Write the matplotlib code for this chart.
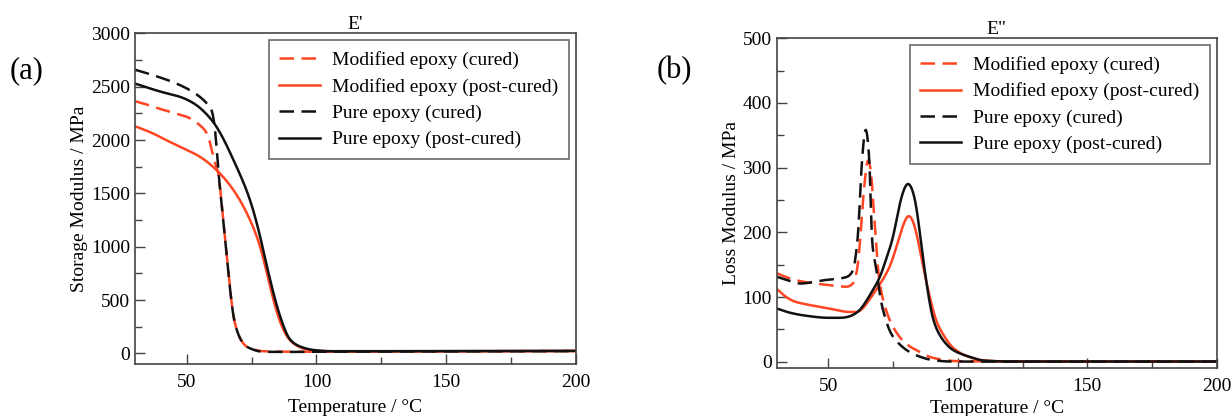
import matplotlib
matplotlib.use("Agg")
import matplotlib.pyplot as plt
from matplotlib.ticker import MultipleLocator
import numpy as np

plt.rcParams["font.family"] = ["Liberation Serif", "DejaVu Serif"]

RED = "#ff4521"
BLACK = "#111111"
SPINE = "#444444"

labels = ["Modified epoxy (cured)", "Modified epoxy (post-cured)",
          "Pure epoxy (cured)", "Pure epoxy (post-cured)"]

# ---- Storage modulus E' (MPa) vs temperature (°C) ----
sm_mod_cured_T = [30, 35, 40, 45, 50, 55, 57.7, 59, 60.2, 61.2, 62.2, 63.5, 64.8, 66.7, 68, 69.5, 71, 73.1, 79.5, 85, 90, 100, 120, 150, 180, 200]
sm_mod_cured_E = [2365, 2330, 2290, 2255, 2218, 2140, 2064, 1969, 1843, 1760, 1687, 1375, 1062, 593, 343, 200, 120, 62, 20, 16, 15, 15, 17, 19, 21, 22]

sm_mod_post_T = [30, 37, 42, 47.4, 55.1, 61.5, 68, 74.4, 78.3, 80.9, 83.4, 86, 89.8, 95, 100, 110, 150, 200]
sm_mod_post_E = [2131, 2062, 2000, 1937, 1843, 1718, 1531, 1250, 1000, 750, 500, 290, 120, 45, 25, 18, 20, 22]

sm_pure_cured_T = [30, 37, 45, 50, 55, 57.7, 59.6, 60.9, 62.2, 63.5, 64.8, 66.7, 68, 69.5, 71, 73.1, 79.5, 90, 100, 150, 200]
sm_pure_cured_E = [2660, 2609, 2540, 2484, 2406, 2344, 2281, 2094, 1687, 1375, 1062, 593, 343, 200, 120, 62, 15, 13, 15, 18, 21]

sm_pure_post_T = [30, 37, 42, 47.4, 53, 60.2, 62.8, 68, 74.4, 78.3, 80.9, 86, 89.8, 94, 98.8, 105, 150, 200]
sm_pure_post_E = [2531, 2475, 2440, 2406, 2340, 2170, 2070, 1812, 1437, 1094, 812, 343, 125, 60, 31, 20, 21, 23]

# ---- Loss modulus E'' (MPa) vs temperature (°C) ----
lm_mod_cured_T = [30, 35, 40, 50, 57, 59.5, 61, 62.3, 63.7, 65.3, 66.7, 67.3, 68.3, 69.2, 71.5, 75.7, 80, 84, 90.5, 100, 120, 200]
lm_mod_cured_E = [137, 129, 124, 118.6, 116, 121, 140, 190, 265, 313, 285, 245, 193, 141, 90, 49, 28, 18, 6, 1, 0.5, 0.5]

lm_mod_post_T = [30, 33, 37, 40, 50, 58.3, 61.3, 63.4, 66, 69.9, 73.7, 77.6, 79.5, 81, 82.5, 84, 86.6, 89, 91.8, 95, 98, 104.6, 110, 120, 200]
lm_mod_post_E = [113.5, 102, 93, 90, 82.6, 77, 77, 83, 97, 120, 147, 195, 218, 227, 220, 199, 147, 103, 62, 38, 22, 7, 2, 0.5, 0.5]

lm_pure_cured_T = [30, 35, 39, 48, 57, 59.6, 60.6, 61.5, 62.8, 64.4, 66, 66.7, 68.6, 70.5, 75, 84, 90.5, 96.9, 110, 200]
lm_pure_cured_E = [131.5, 125, 121, 126, 131, 142, 165, 199, 301, 361, 301, 193, 141, 90, 38.6, 10, 2.6, 0.5, 0.3, 0.3]

lm_pure_post_T = [30, 35, 40, 50, 55, 58, 61.3, 63.5, 66, 69.9, 72, 75, 77.6, 79.5, 80.8, 82.3, 84, 85.3, 87.6, 90.5, 94, 98.2, 104.6, 110, 120, 200]
lm_pure_post_E = [82.6, 76, 72, 68, 68, 70, 77, 87, 103, 131, 155, 193, 245, 270, 277, 268, 240, 200, 130, 64.5, 35, 18, 7.7, 2, 0.5, 0.5]


def smooth(T, E, n=1700, width=0.7):
    """Monotone cubic (PCHIP) curve through the points, lightly eased to hide kinks."""
    T = np.asarray(T, float)
    E = np.asarray(E, float)
    h = np.diff(T)
    d = np.diff(E) / h
    m = np.zeros_like(E)
    for k in range(1, len(E) - 1):
        if d[k - 1] * d[k] > 0:
            w1 = 2 * h[k] + h[k - 1]
            w2 = h[k] + 2 * h[k - 1]
            m[k] = (w1 + w2) / (w1 / d[k - 1] + w2 / d[k])
    m[0] = d[0]
    m[-1] = d[-1]
    x = np.linspace(T[0], T[-1], n)
    idx = np.clip(np.searchsorted(T, x) - 1, 0, len(T) - 2)
    t = (x - T[idx]) / h[idx]
    h00 = 2 * t**3 - 3 * t**2 + 1
    h10 = t**3 - 2 * t**2 + t
    h01 = -2 * t**3 + 3 * t**2
    h11 = t**3 - t**2
    y = h00 * E[idx] + h10 * h[idx] * m[idx] + h01 * E[idx + 1] + h11 * h[idx] * m[idx + 1]
    # short Gaussian easing along T
    step = x[1] - x[0]
    half = int(3 * width / step)
    kx = np.arange(-half, half + 1) * step
    ker = np.exp(-0.5 * (kx / width) ** 2)
    ker /= ker.sum()
    ypad = np.concatenate([np.full(half, y[0]), y, np.full(half, y[-1])])
    y = np.convolve(ypad, ker, mode="valid")
    return x, y


fig = plt.figure(figsize=(12.32, 4.16), dpi=100)
ax1 = fig.add_axes([0.1096, 0.125, 0.3577, 0.7945])
ax2 = fig.add_axes([0.6304, 0.1147, 0.3571, 0.7933])

LW = 1.8
DASH = (0, (5.8, 3.0))


def draw(ax, series, widths):
    styles = [(RED, DASH), (RED, "-"), (BLACK, DASH), (BLACK, "-")]
    for (T, E), (c, ls), lab, w in zip(series, styles, labels, widths):
        x, y = smooth(T, E, width=w)
        ax.plot(x, y, color=c, linestyle=ls, linewidth=LW, label=lab)


draw(ax1, [(sm_mod_cured_T, sm_mod_cured_E), (sm_mod_post_T, sm_mod_post_E),
           (sm_pure_cured_T, sm_pure_cured_E), (sm_pure_post_T, sm_pure_post_E)],
     [0.35, 0.8, 0.35, 0.9])
draw(ax2, [(lm_mod_cured_T, lm_mod_cured_E), (lm_mod_post_T, lm_mod_post_E),
           (lm_pure_cured_T, lm_pure_cured_E), (lm_pure_post_T, lm_pure_post_E)],
     [0.3, 0.7, 0.3, 0.7])

ax1.set_xlim(30, 200)
ax1.set_ylim(-100, 3000)
ax1.yaxis.set_major_locator(MultipleLocator(500))
ax1.yaxis.set_minor_locator(MultipleLocator(250))
ax1.set_ylabel("Storage Modulus / MPa", fontsize=14, labelpad=2)
ax1.set_title("E'", fontsize=14, pad=3)

ax2.set_xlim(30, 200)
ax2.set_ylim(-10, 500)
ax2.yaxis.set_major_locator(MultipleLocator(100))
ax2.yaxis.set_minor_locator(MultipleLocator(50))
ax2.set_ylabel("Loss Modulus / MPa", fontsize=14, labelpad=2)
ax2.set_title('E"', fontsize=14, pad=3)

for ax, lp in ((ax1, 6), (ax2, 3.5)):
    ax.xaxis.set_major_locator(MultipleLocator(50))
    ax.xaxis.set_minor_locator(MultipleLocator(25))
    ax.set_xlabel("Temperature / °C", fontsize=14, labelpad=lp)
    ax.tick_params(which="both", direction="in", top=False, right=False,
                   labelsize=14, color=SPINE, width=1.0)
    ax.tick_params(axis="x", which="both", pad=7)
    ax.tick_params(which="major", length=7)
    ax.tick_params(which="minor", length=5)
    for s in ax.spines.values():
        s.set_color(SPINE)
        s.set_linewidth(1.2)
    leg = ax.legend(loc="upper right", fontsize=14, frameon=True, fancybox=False,
                    handlelength=2.1, handletextpad=0.6, labelspacing=0.45,
                    borderpad=0.55, borderaxespad=0.35, edgecolor=SPINE)
    leg.get_frame().set_linewidth(1.2)

fig.text(0.008, 0.83, "(a)", fontsize=22, ha="left", va="center")
fig.text(0.533, 0.83, "(b)", fontsize=22, ha="left", va="center")

fig.savefig("out.png", dpi=100)
